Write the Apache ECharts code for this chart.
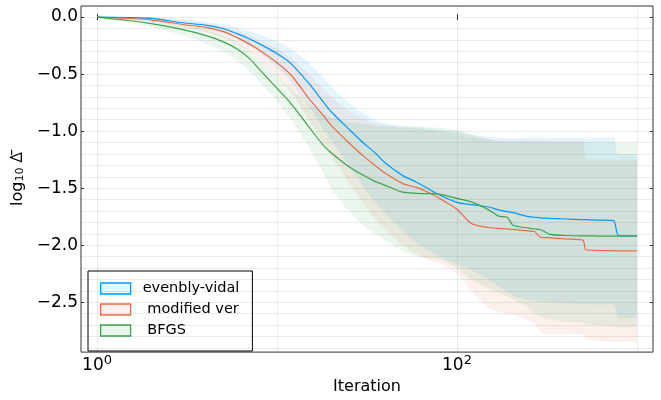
<!DOCTYPE html>
<html><head><meta charset="utf-8">
<script src="https://cdn.jsdelivr.net/npm/echarts@6/dist/echarts.min.js"></script>
<style>html,body{margin:0;padding:0;background:#fff}#c{width:661px;height:400px}</style>
</head><body><div id="c"></div>
<script>
// ---- data ----
const iters = [1, 1.5, 2, 3, 4, 5, 6, 7, 8, 10, 12, 15, 18, 20, 25, 30, 35, 40, 50, 60, 70, 80, 100, 120, 150, 170, 190, 205, 250, 270, 290, 330, 400, 500, 520, 600, 740, 790, 1000];

const evMean = [0, -0.005, -0.012, -0.05, -0.07, -0.10, -0.145, -0.19, -0.235, -0.32, -0.41, -0.58, -0.74, -0.83, -0.98, -1.10, -1.19, -1.28, -1.39, -1.45, -1.51, -1.56, -1.625, -1.645, -1.665, -1.69, -1.705, -1.715, -1.75, -1.755, -1.76, -1.765, -1.77, -1.775, -1.775, -1.78, -1.785, -1.915, -1.92];
const evHi = [0, 0, 0, -0.02, -0.04, -0.065, -0.09, -0.12, -0.15, -0.21, -0.28, -0.40, -0.53, -0.61, -0.75, -0.84, -0.90, -0.93, -0.955, -0.965, -0.975, -0.985, -1.0, -1.03, -1.05, -1.055, -1.06, -1.06, -1.055, -1.055, -1.055, -1.055, -1.055, -1.055, -1.055, -1.055, -1.055, -1.20, -1.20];
const evLo = [0, -0.01, -0.02, -0.06, -0.10, -0.14, -0.19, -0.25, -0.31, -0.44, -0.57, -0.78, -0.98, -1.08, -1.30, -1.48, -1.62, -1.72, -1.88, -1.98, -2.05, -2.10, -2.17, -2.22, -2.30, -2.36, -2.41, -2.44, -2.48, -2.49, -2.50, -2.50, -2.51, -2.515, -2.515, -2.52, -2.52, -2.64, -2.64];

const mdMean = [0, -0.012, -0.025, -0.065, -0.09, -0.125, -0.18, -0.235, -0.29, -0.40, -0.51, -0.71, -0.86, -0.95, -1.10, -1.215, -1.30, -1.37, -1.46, -1.495, -1.54, -1.59, -1.685, -1.81, -1.845, -1.852, -1.857, -1.862, -1.875, -1.88, -1.93, -1.935, -1.945, -1.955, -2.04, -2.045, -2.048, -2.05, -2.05];
const mdHi = [0, 0, -0.005, -0.03, -0.055, -0.085, -0.12, -0.16, -0.20, -0.28, -0.36, -0.50, -0.63, -0.70, -0.82, -0.89, -0.93, -0.95, -0.97, -0.98, -0.99, -1.0, -1.02, -1.05, -1.075, -1.08, -1.08, -1.08, -1.08, -1.08, -1.08, -1.08, -1.08, -1.08, -1.25, -1.25, -1.25, -1.25, -1.25];
const mdLo = [0, -0.02, -0.04, -0.09, -0.13, -0.18, -0.24, -0.30, -0.37, -0.52, -0.66, -0.90, -1.10, -1.22, -1.45, -1.63, -1.77, -1.87, -2.0, -2.08, -2.13, -2.16, -2.25, -2.40, -2.55, -2.58, -2.60, -2.61, -2.66, -2.68, -2.76, -2.78, -2.78, -2.785, -2.82, -2.84, -2.845, -2.85, -2.855];

const bfMean = [0, -0.03, -0.058, -0.11, -0.16, -0.215, -0.28, -0.36, -0.46, -0.625, -0.76, -0.96, -1.12, -1.19, -1.31, -1.385, -1.44, -1.475, -1.535, -1.545, -1.548, -1.552, -1.59, -1.62, -1.69, -1.745, -1.755, -1.825, -1.85, -1.858, -1.862, -1.905, -1.915, -1.918, -1.918, -1.92, -1.92, -1.92, -1.92];
const bfHi = [0, -0.01, -0.03, -0.07, -0.11, -0.16, -0.22, -0.29, -0.37, -0.52, -0.63, -0.76, -0.84, -0.88, -0.92, -0.94, -0.95, -0.955, -0.96, -0.962, -0.965, -0.97, -0.99, -1.03, -1.07, -1.085, -1.09, -1.09, -1.09, -1.09, -1.09, -1.095, -1.095, -1.095, -1.095, -1.10, -1.10, -1.10, -1.10];
const bfLo = [0, -0.05, -0.09, -0.16, -0.23, -0.30, -0.38, -0.47, -0.57, -0.74, -0.90, -1.14, -1.36, -1.50, -1.70, -1.82, -1.90, -1.96, -2.05, -2.10, -2.115, -2.125, -2.20, -2.30, -2.38, -2.42, -2.45, -2.47, -2.55, -2.60, -2.63, -2.65, -2.67, -2.68, -2.69, -2.70, -2.71, -2.72, -2.72];

const seriesNames = ['evenbly-vidal', ' modified ver', ' BFGS'];
const seriesColors = ['#009AFA', '#E36F47', '#3EA44E'];
const bandFills = ['rgba(0,154,250,0.1)', 'rgba(227,111,71,0.1)', 'rgba(62,164,78,0.1)'];

const xTickVals = [1, 100];
const xGridVals = [1, 10, 100, 1000];
const yTickVals = [0, -0.5, -1, -1.5, -2, -2.5];
const yGridVals = [0, -0.1, -0.2, -0.3, -0.4, -0.5, -0.6, -0.7, -0.8, -0.9, -1.0, -1.1, -1.2, -1.3, -1.4, -1.5, -1.6, -1.7, -1.8, -1.9, -2.0, -2.1, -2.2, -2.3, -2.4, -2.5, -2.6, -2.7, -2.8, -2.9];

const X_MIN = Math.pow(10, -0.089), X_MAX = Math.pow(10, 3.089);
const Y_MIN = -2.937, Y_MAX = 0.097;
const FONT = 'DejaVu Sans';
const SMOOTH = 0.25;

// ---- build ----
const pairs = ys => iters.map((x, i) => [x, ys[i]]);
// for stacked bands the y value goes first so ECharts stacks on the y dimension
const pairsYX = ys => iters.map((x, i) => [ys[i], x]);
const groups = [[evMean, evLo, evHi], [mdMean, mdLo, mdHi], [bfMean, bfLo, bfHi]];

const series = [];
series.push({
  type: 'line', name: 'grid', data: [], silent: true, z: 0,
  markLine: {
    silent: true, symbol: ['none', 'none'], label: { show: false }, animation: false,
    lineStyle: { color: 'rgba(0,0,0,0.075)', width: 1, type: 'solid' },
    data: yGridVals.map(v => ({ yAxis: v })).concat(xGridVals.map(v => ({ xAxis: v })))
  }
});
groups.forEach((g, k) => {
  const [mean, lo, hi] = g;
  const stackId = 'band' + k;
  series.push({
    type: 'line', name: 'lo' + k, stack: stackId, stackStrategy: 'all', data: pairsYX(lo),
    encode: { x: 1, y: 0 }, symbol: 'none',
    smooth: SMOOTH, silent: true,
    lineStyle: { opacity: 0 }
  });
  series.push({
    type: 'line', name: 'hi' + k, stack: stackId, stackStrategy: 'all', data: pairsYX(hi.map((v, i) => v - lo[i])),
    encode: { x: 1, y: 0 }, symbol: 'none',
    smooth: SMOOTH, silent: true,
    lineStyle: { opacity: 0 }, areaStyle: { color: bandFills[k], opacity: 1 }
  });
  series.push({
    type: 'line', name: seriesNames[k], data: pairs(mean), symbol: 'none',
    smooth: SMOOTH,
    lineStyle: { color: seriesColors[k], width: 1.2 }, itemStyle: { color: seriesColors[k] }
  });
});

const fmtY = v => (Math.abs(v) < 1e-9 ? '0.0' : v.toFixed(1).replace('-', '\u2212'));

const option = {
  animation: false,
  backgroundColor: '#fff',
  grid: { left: 81, right: 8, top: 6, bottom: 42, show: true, borderColor: '#333', borderWidth: 1, backgroundColor: 'transparent' },
  legend: {
    orient: 'vertical', left: 88, top: 271,
    padding: [10, 13, 13, 12], itemWidth: 30, itemHeight: 11, itemGap: 6,
    borderColor: '#000', borderWidth: 1, backgroundColor: '#fff',
    textStyle: { fontFamily: FONT, fontSize: 14.5, color: '#000', padding: [0, 0, 0, 7] },
    data: seriesNames.map((n, i) => ({ name: n, icon: 'rect', itemStyle: { color: bandFills[i], borderColor: seriesColors[i], borderWidth: 1.3 } }))
  },
  xAxis: [{
    type: 'log', logBase: 10, min: X_MIN, max: X_MAX, position: 'bottom',
    axisLine: { show: false }, splitLine: { show: false }, minorSplitLine: { show: false },
    axisTick: { show: true, inside: true, length: 3, customValues: xTickVals, lineStyle: { color: '#333' } },
    minorTick: { show: false },
    axisLabel: {
      customValues: xTickVals, margin: 2, fontFamily: FONT,
      formatter: v => '{b|10}{s|' + Math.round(Math.log10(v)) + '}',
      rich: {
        b: { fontFamily: FONT, fontSize: 17, lineHeight: 20, verticalAlign: 'bottom', color: '#000' },
        s: { fontFamily: FONT, fontSize: 13, lineHeight: 13, verticalAlign: 'top', color: '#000' }
      }
    },
    name: 'Iteration', nameLocation: 'middle', nameGap: 24,
    nameTextStyle: { fontFamily: FONT, fontSize: 16, color: '#000' }
  }, {
    type: 'log', logBase: 10, min: X_MIN, max: X_MAX, position: 'top',
    axisLine: { show: false }, splitLine: { show: false }, axisLabel: { show: false },
    axisTick: { show: true, inside: true, length: 3, customValues: xTickVals, lineStyle: { color: '#333' } }
  }],
  yAxis: [{
    type: 'value', min: Y_MIN, max: Y_MAX,
    axisLine: { show: false }, splitLine: { show: false },
    axisTick: { show: true, inside: true, length: 3, customValues: yTickVals, lineStyle: { color: '#333' } },
    axisLabel: { customValues: yTickVals, formatter: fmtY, margin: 3, fontFamily: FONT, fontSize: 17, color: '#000' },
    name: 'log{sub|10} {d|\u0394\u0304}', nameLocation: 'middle', nameGap: 52, nameRotate: 90,
    nameTextStyle: { fontFamily: FONT, fontSize: 16, color: '#000',
      rich: {
        sub: { fontFamily: FONT, fontSize: 11, color: '#000', verticalAlign: 'bottom', lineHeight: 14 },
        d: { fontFamily: 'Noto Sans', fontSize: 16, color: '#000' }
      } }
  }, {
    type: 'value', min: Y_MIN, max: Y_MAX, position: 'right',
    axisLine: { show: false }, splitLine: { show: false }, axisLabel: { show: false },
    axisTick: { show: true, inside: true, length: 3, customValues: yTickVals, lineStyle: { color: '#333' } }
  }],
  series: series
};

const chart = echarts.init(document.getElementById('c'), null, { renderer: 'canvas' });
chart.setOption(option);
</script>
</body></html>
